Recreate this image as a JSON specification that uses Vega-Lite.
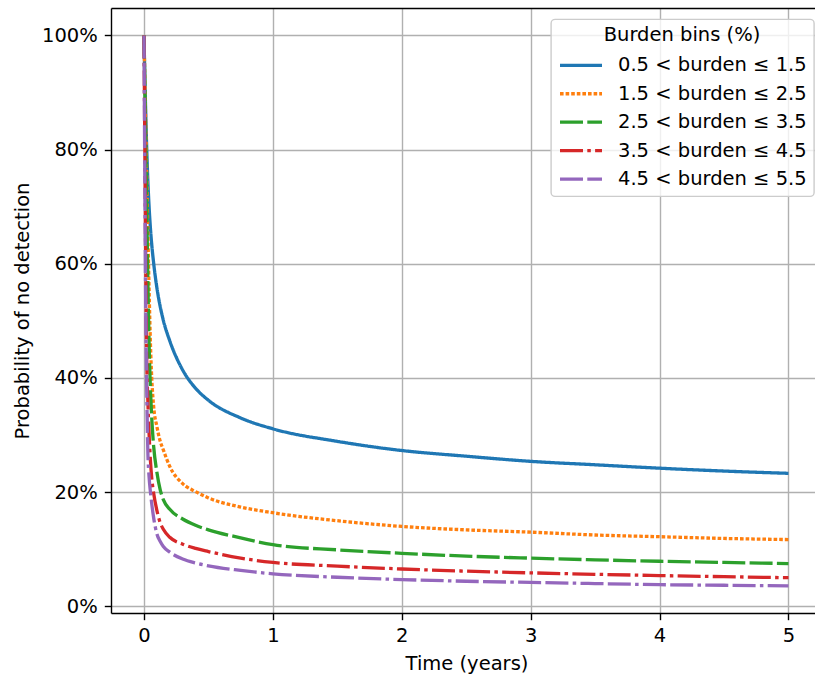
{
  "$schema": "https://vega.github.io/schema/vega-lite/v6.json",
  "width": 704,
  "height": 605,
  "autosize": {"type": "none"},
  "padding": {"left": 111, "top": 8, "right": 0, "bottom": 64},
  "background": "white",
  "config": {
    "font": "DejaVu Sans",
    "view": {"stroke": null},
    "axis": {
      "labelFont": "DejaVu Sans", "titleFont": "DejaVu Sans",
      "labelFontSize": 19.5, "titleFontSize": 19.5,
      "labelColor": "black", "titleColor": "black", "titleFontWeight": "normal",
      "domainColor": "black", "domainWidth": 1.4,
      "tickColor": "black", "tickWidth": 1.4, "tickSize": 6.7,
      "gridColor": "#b0b0b0", "gridWidth": 1.4, "gridOpacity": 1
    },
    "legend": {
      "orient": "none", "legendX": 440, "legendY": 11.3,
      "padding": 7, "fillColor": "rgba(255,255,255,0.8)", "strokeColor": "#cccccc",
      "strokeWidth": 1.4, "cornerRadius": 4,
      "titleFont": "DejaVu Sans", "titleFontSize": 19.5, "titleFontWeight": "normal",
      "titleColor": "black", "titleAnchor": "middle", "titlePadding": 2.5,
      "labelFont": "DejaVu Sans", "labelFontSize": 19.5, "labelColor": "black", "labelLimit": 400,
      "symbolType": "M-1,0H1.8", "symbolSize": 900, "symbolStrokeWidth": 3.3,
      "labelOffset": 26, "rowPadding": 1.45
    }
  },
  "datasets": {
    "curves": [
      {"bin": "0.5 < burden ≤ 1.5", "t": 0, "p": 1},
      {"bin": "0.5 < burden ≤ 1.5", "t": 0.005, "p": 0.945},
      {"bin": "0.5 < burden ≤ 1.5", "t": 0.01, "p": 0.895},
      {"bin": "0.5 < burden ≤ 1.5", "t": 0.02, "p": 0.81},
      {"bin": "0.5 < burden ≤ 1.5", "t": 0.03, "p": 0.745},
      {"bin": "0.5 < burden ≤ 1.5", "t": 0.04, "p": 0.698},
      {"bin": "0.5 < burden ≤ 1.5", "t": 0.05, "p": 0.662},
      {"bin": "0.5 < burden ≤ 1.5", "t": 0.06, "p": 0.634},
      {"bin": "0.5 < burden ≤ 1.5", "t": 0.075, "p": 0.601},
      {"bin": "0.5 < burden ≤ 1.5", "t": 0.1, "p": 0.558},
      {"bin": "0.5 < burden ≤ 1.5", "t": 0.125, "p": 0.526},
      {"bin": "0.5 < burden ≤ 1.5", "t": 0.15, "p": 0.501},
      {"bin": "0.5 < burden ≤ 1.5", "t": 0.2, "p": 0.465},
      {"bin": "0.5 < burden ≤ 1.5", "t": 0.3, "p": 0.414},
      {"bin": "0.5 < burden ≤ 1.5", "t": 0.4, "p": 0.382},
      {"bin": "0.5 < burden ≤ 1.5", "t": 0.5, "p": 0.361},
      {"bin": "0.5 < burden ≤ 1.5", "t": 0.75, "p": 0.330},
      {"bin": "0.5 < burden ≤ 1.5", "t": 1, "p": 0.311},
      {"bin": "0.5 < burden ≤ 1.5", "t": 1.5, "p": 0.289},
      {"bin": "0.5 < burden ≤ 1.5", "t": 2, "p": 0.273},
      {"bin": "0.5 < burden ≤ 1.5", "t": 2.5, "p": 0.263},
      {"bin": "0.5 < burden ≤ 1.5", "t": 3, "p": 0.254},
      {"bin": "0.5 < burden ≤ 1.5", "t": 3.5, "p": 0.248},
      {"bin": "0.5 < burden ≤ 1.5", "t": 4, "p": 0.242},
      {"bin": "0.5 < burden ≤ 1.5", "t": 4.5, "p": 0.237},
      {"bin": "0.5 < burden ≤ 1.5", "t": 5, "p": 0.233},

      {"bin": "1.5 < burden ≤ 2.5", "t": 0, "p": 1},
      {"bin": "1.5 < burden ≤ 2.5", "t": 0.005, "p": 0.94},
      {"bin": "1.5 < burden ≤ 2.5", "t": 0.01, "p": 0.88},
      {"bin": "1.5 < burden ≤ 2.5", "t": 0.02, "p": 0.77},
      {"bin": "1.5 < burden ≤ 2.5", "t": 0.03, "p": 0.655},
      {"bin": "1.5 < burden ≤ 2.5", "t": 0.04, "p": 0.55},
      {"bin": "1.5 < burden ≤ 2.5", "t": 0.05, "p": 0.46},
      {"bin": "1.5 < burden ≤ 2.5", "t": 0.06, "p": 0.40},
      {"bin": "1.5 < burden ≤ 2.5", "t": 0.075, "p": 0.35},
      {"bin": "1.5 < burden ≤ 2.5", "t": 0.1, "p": 0.315},
      {"bin": "1.5 < burden ≤ 2.5", "t": 0.125, "p": 0.29},
      {"bin": "1.5 < burden ≤ 2.5", "t": 0.15, "p": 0.274},
      {"bin": "1.5 < burden ≤ 2.5", "t": 0.2, "p": 0.245},
      {"bin": "1.5 < burden ≤ 2.5", "t": 0.3, "p": 0.215},
      {"bin": "1.5 < burden ≤ 2.5", "t": 0.4, "p": 0.201},
      {"bin": "1.5 < burden ≤ 2.5", "t": 0.5, "p": 0.19},
      {"bin": "1.5 < burden ≤ 2.5", "t": 0.75, "p": 0.174},
      {"bin": "1.5 < burden ≤ 2.5", "t": 1, "p": 0.164},
      {"bin": "1.5 < burden ≤ 2.5", "t": 1.5, "p": 0.15},
      {"bin": "1.5 < burden ≤ 2.5", "t": 2, "p": 0.14},
      {"bin": "1.5 < burden ≤ 2.5", "t": 2.5, "p": 0.134},
      {"bin": "1.5 < burden ≤ 2.5", "t": 3, "p": 0.13},
      {"bin": "1.5 < burden ≤ 2.5", "t": 3.5, "p": 0.125},
      {"bin": "1.5 < burden ≤ 2.5", "t": 4, "p": 0.122},
      {"bin": "1.5 < burden ≤ 2.5", "t": 4.5, "p": 0.119},
      {"bin": "1.5 < burden ≤ 2.5", "t": 5, "p": 0.117},

      {"bin": "2.5 < burden ≤ 3.5", "t": 0, "p": 1},
      {"bin": "2.5 < burden ≤ 3.5", "t": 0.005, "p": 0.93},
      {"bin": "2.5 < burden ≤ 3.5", "t": 0.01, "p": 0.86},
      {"bin": "2.5 < burden ≤ 3.5", "t": 0.02, "p": 0.72},
      {"bin": "2.5 < burden ≤ 3.5", "t": 0.03, "p": 0.57},
      {"bin": "2.5 < burden ≤ 3.5", "t": 0.04, "p": 0.455},
      {"bin": "2.5 < burden ≤ 3.5", "t": 0.05, "p": 0.38},
      {"bin": "2.5 < burden ≤ 3.5", "t": 0.06, "p": 0.33},
      {"bin": "2.5 < burden ≤ 3.5", "t": 0.075, "p": 0.28},
      {"bin": "2.5 < burden ≤ 3.5", "t": 0.1, "p": 0.235},
      {"bin": "2.5 < burden ≤ 3.5", "t": 0.125, "p": 0.205},
      {"bin": "2.5 < burden ≤ 3.5", "t": 0.15, "p": 0.187},
      {"bin": "2.5 < burden ≤ 3.5", "t": 0.2, "p": 0.17},
      {"bin": "2.5 < burden ≤ 3.5", "t": 0.3, "p": 0.153},
      {"bin": "2.5 < burden ≤ 3.5", "t": 0.4, "p": 0.142},
      {"bin": "2.5 < burden ≤ 3.5", "t": 0.5, "p": 0.134},
      {"bin": "2.5 < burden ≤ 3.5", "t": 0.75, "p": 0.12},
      {"bin": "2.5 < burden ≤ 3.5", "t": 1, "p": 0.108},
      {"bin": "2.5 < burden ≤ 3.5", "t": 1.5, "p": 0.099},
      {"bin": "2.5 < burden ≤ 3.5", "t": 2, "p": 0.093},
      {"bin": "2.5 < burden ≤ 3.5", "t": 2.5, "p": 0.088},
      {"bin": "2.5 < burden ≤ 3.5", "t": 3, "p": 0.0845},
      {"bin": "2.5 < burden ≤ 3.5", "t": 3.5, "p": 0.0815},
      {"bin": "2.5 < burden ≤ 3.5", "t": 4, "p": 0.079},
      {"bin": "2.5 < burden ≤ 3.5", "t": 4.5, "p": 0.077},
      {"bin": "2.5 < burden ≤ 3.5", "t": 5, "p": 0.075},

      {"bin": "3.5 < burden ≤ 4.5", "t": 0, "p": 1},
      {"bin": "3.5 < burden ≤ 4.5", "t": 0.005, "p": 0.85},
      {"bin": "3.5 < burden ≤ 4.5", "t": 0.01, "p": 0.70},
      {"bin": "3.5 < burden ≤ 4.5", "t": 0.02, "p": 0.45},
      {"bin": "3.5 < burden ≤ 4.5", "t": 0.03, "p": 0.36},
      {"bin": "3.5 < burden ≤ 4.5", "t": 0.04, "p": 0.30},
      {"bin": "3.5 < burden ≤ 4.5", "t": 0.05, "p": 0.255},
      {"bin": "3.5 < burden ≤ 4.5", "t": 0.06, "p": 0.225},
      {"bin": "3.5 < burden ≤ 4.5", "t": 0.075, "p": 0.198},
      {"bin": "3.5 < burden ≤ 4.5", "t": 0.1, "p": 0.168},
      {"bin": "3.5 < burden ≤ 4.5", "t": 0.125, "p": 0.147},
      {"bin": "3.5 < burden ≤ 4.5", "t": 0.15, "p": 0.135},
      {"bin": "3.5 < burden ≤ 4.5", "t": 0.2, "p": 0.121},
      {"bin": "3.5 < burden ≤ 4.5", "t": 0.3, "p": 0.109},
      {"bin": "3.5 < burden ≤ 4.5", "t": 0.4, "p": 0.1015},
      {"bin": "3.5 < burden ≤ 4.5", "t": 0.5, "p": 0.096},
      {"bin": "3.5 < burden ≤ 4.5", "t": 0.75, "p": 0.0845},
      {"bin": "3.5 < burden ≤ 4.5", "t": 1, "p": 0.077},
      {"bin": "3.5 < burden ≤ 4.5", "t": 1.5, "p": 0.0705},
      {"bin": "3.5 < burden ≤ 4.5", "t": 2, "p": 0.0655},
      {"bin": "3.5 < burden ≤ 4.5", "t": 2.5, "p": 0.0617},
      {"bin": "3.5 < burden ≤ 4.5", "t": 3, "p": 0.0587},
      {"bin": "3.5 < burden ≤ 4.5", "t": 3.5, "p": 0.0562},
      {"bin": "3.5 < burden ≤ 4.5", "t": 4, "p": 0.054},
      {"bin": "3.5 < burden ≤ 4.5", "t": 4.5, "p": 0.052},
      {"bin": "3.5 < burden ≤ 4.5", "t": 5, "p": 0.0502},

      {"bin": "4.5 < burden ≤ 5.5", "t": 0, "p": 1},
      {"bin": "4.5 < burden ≤ 5.5", "t": 0.005, "p": 0.80},
      {"bin": "4.5 < burden ≤ 5.5", "t": 0.01, "p": 0.62},
      {"bin": "4.5 < burden ≤ 5.5", "t": 0.02, "p": 0.40},
      {"bin": "4.5 < burden ≤ 5.5", "t": 0.03, "p": 0.27},
      {"bin": "4.5 < burden ≤ 5.5", "t": 0.04, "p": 0.225},
      {"bin": "4.5 < burden ≤ 5.5", "t": 0.05, "p": 0.20},
      {"bin": "4.5 < burden ≤ 5.5", "t": 0.06, "p": 0.18},
      {"bin": "4.5 < burden ≤ 5.5", "t": 0.075, "p": 0.155},
      {"bin": "4.5 < burden ≤ 5.5", "t": 0.1, "p": 0.127},
      {"bin": "4.5 < burden ≤ 5.5", "t": 0.125, "p": 0.114},
      {"bin": "4.5 < burden ≤ 5.5", "t": 0.15, "p": 0.105},
      {"bin": "4.5 < burden ≤ 5.5", "t": 0.2, "p": 0.095},
      {"bin": "4.5 < burden ≤ 5.5", "t": 0.3, "p": 0.083},
      {"bin": "4.5 < burden ≤ 5.5", "t": 0.4, "p": 0.076},
      {"bin": "4.5 < burden ≤ 5.5", "t": 0.5, "p": 0.071},
      {"bin": "4.5 < burden ≤ 5.5", "t": 0.75, "p": 0.063},
      {"bin": "4.5 < burden ≤ 5.5", "t": 1, "p": 0.057},
      {"bin": "4.5 < burden ≤ 5.5", "t": 1.5, "p": 0.051},
      {"bin": "4.5 < burden ≤ 5.5", "t": 2, "p": 0.047},
      {"bin": "4.5 < burden ≤ 5.5", "t": 2.5, "p": 0.044},
      {"bin": "4.5 < burden ≤ 5.5", "t": 3, "p": 0.042},
      {"bin": "4.5 < burden ≤ 5.5", "t": 3.5, "p": 0.040},
      {"bin": "4.5 < burden ≤ 5.5", "t": 4, "p": 0.038},
      {"bin": "4.5 < burden ≤ 5.5", "t": 4.5, "p": 0.037},
      {"bin": "4.5 < burden ≤ 5.5", "t": 5, "p": 0.036}
    ]
  },
  "data": {"name": "curves"},
  "resolve": {"axis": {"x": "independent"}},
  "layer": [
    {
      "mark": {"type": "line", "strokeWidth": 3.3, "interpolate": "monotone", "clip": true},
      "encoding": {
        "x": {
          "field": "t", "type": "quantitative",
          "scale": {"domain": [-0.256, 5.206], "nice": false, "zero": false},
          "axis": {
            "values": [0, 1, 2, 3, 4, 5], "format": "d", "title": "Time (years)",
            "labelPadding": 7, "titleX": 355.5, "titleY": 56,
            "titleBaseline": "alphabetic", "titleAlign": "center"
          }
        },
        "y": {
          "field": "p", "type": "quantitative",
          "scale": {"domain": [-0.0116, 1.048], "nice": false, "zero": false},
          "axis": {
            "values": [0, 0.2, 0.4, 0.6, 0.8, 1.0], "format": ".0%",
            "title": "Probability of no detection", "labelPadding": 7,
            "titleX": -83, "titleY": 302.5, "titleAngle": 270,
            "titleBaseline": "alphabetic", "titleAlign": "center"
          }
        },
        "color": {
          "field": "bin", "type": "nominal", "title": "Burden bins (%)",
          "sort": ["0.5 < burden ≤ 1.5", "1.5 < burden ≤ 2.5", "2.5 < burden ≤ 3.5", "3.5 < burden ≤ 4.5", "4.5 < burden ≤ 5.5"],
          "scale": {
            "domain": ["0.5 < burden ≤ 1.5", "1.5 < burden ≤ 2.5", "2.5 < burden ≤ 3.5", "3.5 < burden ≤ 4.5", "4.5 < burden ≤ 5.5"],
            "range": ["#1f77b4", "#ff7f0e", "#2ca02c", "#d62728", "#9467bd"]
          }
        },
        "strokeDash": {
          "field": "bin", "type": "nominal", "title": "Burden bins (%)",
          "sort": ["0.5 < burden ≤ 1.5", "1.5 < burden ≤ 2.5", "2.5 < burden ≤ 3.5", "3.5 < burden ≤ 4.5", "4.5 < burden ≤ 5.5"],
          "scale": {
            "domain": ["0.5 < burden ≤ 1.5", "1.5 < burden ≤ 2.5", "2.5 < burden ≤ 3.5", "3.5 < burden ≤ 4.5", "4.5 < burden ≤ 5.5"],
            "range": [[1, 0], [3.6, 2], [23, 4.3], [23, 4.3, 3.5, 4.3], [23, 4.3, 23, 4.3, 3.5, 4.3]]
          }
        }
      }
    },
    {
      "mark": {"type": "point", "opacity": 0},
      "encoding": {
        "x": {
          "field": "t", "type": "quantitative",
          "axis": {"orient": "top", "labels": false, "ticks": false, "grid": false, "title": null, "domain": true}
        }
      }
    }
  ]
}
